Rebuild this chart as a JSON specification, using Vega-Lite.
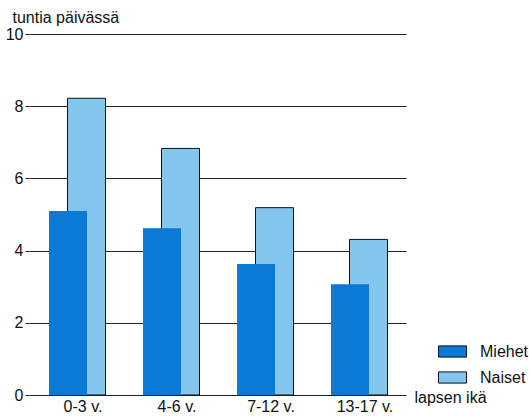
{
  "$schema": "https://vega.github.io/schema/vega-lite/v6.json",
  "autosize": "none",
  "width": 380,
  "height": 361,
  "padding": {"left": 30, "top": 34, "right": 119, "bottom": 22},
  "background": "white",
  "config": {
    "font": "Liberation Sans",
    "view": {"stroke": null},
    "axis": {"labelFont": "Liberation Sans", "titleFont": "Liberation Sans", "labelColor": "#111", "titleColor": "#111", "labelFontSize": 16, "titleFontSize": 16, "titleFontWeight": "normal"}
  },
  "data": {
    "values": [
      {"ika": "0-3 v.", "sukupuoli": "Miehet", "tunnit": 5.1},
      {"ika": "0-3 v.", "sukupuoli": "Naiset", "tunnit": 8.22},
      {"ika": "4-6 v.", "sukupuoli": "Miehet", "tunnit": 4.62},
      {"ika": "4-6 v.", "sukupuoli": "Naiset", "tunnit": 6.83},
      {"ika": "7-12 v.", "sukupuoli": "Miehet", "tunnit": 3.63},
      {"ika": "7-12 v.", "sukupuoli": "Naiset", "tunnit": 5.19},
      {"ika": "13-17 v.", "sukupuoli": "Miehet", "tunnit": 3.07},
      {"ika": "13-17 v.", "sukupuoli": "Naiset", "tunnit": 4.31}
    ]
  },
  "encoding": {
    "x": {
      "field": "ika", "type": "nominal", "sort": null,
      "scale": {"range": [0, 376], "paddingInner": 0, "paddingOuter": 0},
      "axis": {"title": "lapsen ikä", "titleX": 384, "titleY": 2, "titleAlign": "left", "titleBaseline": "middle", "titleAnchor": "start", "labelAngle": 0, "domain": false, "ticks": false, "labelPadding": 3, "labelOffset": 6}
    },
    "y": {
      "field": "tunnit", "type": "quantitative",
      "scale": {"domain": [0, 10], "nice": false},
      "axis": {"title": "tuntia päivässä", "titleAngle": 0, "titleX": -18, "titleY": -17, "titleAlign": "left", "titleBaseline": "middle", "values": [0, 2, 4, 6, 8, 10], "domain": false, "grid": true, "gridColor": "#222", "gridOpacity": 1, "gridWidth": 1, "ticks": true, "tickSize": 5, "tickColor": "#222", "labelPadding": 2}
    },
    "color": {
      "field": "sukupuoli", "type": "nominal",
      "scale": {"domain": ["Miehet", "Naiset"], "range": ["#0a7ad6", "#82c6ee"]},
      "legend": {"title": null, "orient": "none", "legendX": 414.5, "legendY": 309.5, "symbolType": "M-2,-0.8H2V0.8H-2Z", "symbolSize": 196, "symbolStrokeColor": "#111", "symbolStrokeWidth": 1, "symbolOpacity": 1, "labelFontSize": 16, "labelFont": "Liberation Sans", "labelColor": "#111", "labelOffset": 19.5, "rowPadding": 10, "padding": 0}
    }
  },
  "layer": [
    {
      "transform": [{"filter": "datum.sukupuoli === 'Naiset'"}],
      "mark": {"type": "bar", "width": 38, "xOffset": 9.5, "stroke": "#111", "strokeWidth": 1, "opacity": 1}
    },
    {
      "transform": [{"filter": "datum.sukupuoli === 'Miehet'"}],
      "mark": {"type": "bar", "width": 38, "xOffset": -9, "opacity": 1}
    }
  ]
}
